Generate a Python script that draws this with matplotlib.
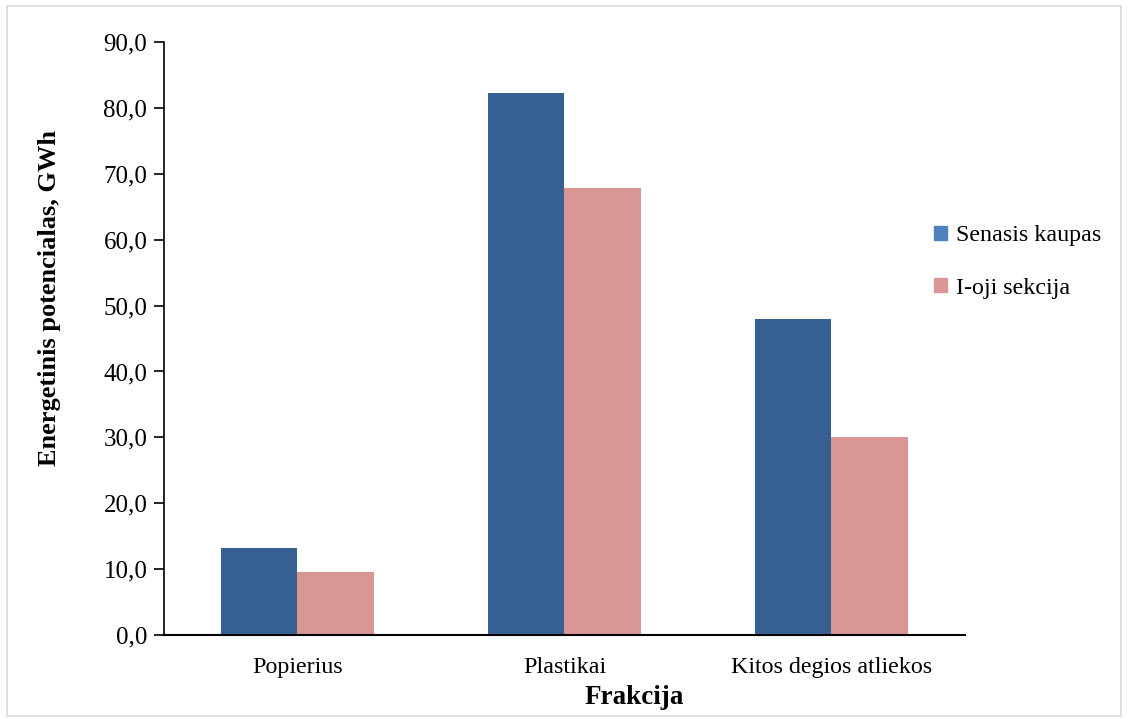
import matplotlib.pyplot as plt
import matplotlib.patches as mpatches
import numpy as np

categories = ["Popierius", "Plastikai", "Kitos degios atliekos"]
senasis = [13.2, 82.3, 47.9]
sekcija = [9.6, 67.8, 30.1]
yticks = [0, 10, 20, 30, 40, 50, 60, 70, 80, 90]

plt.rcParams['font.family'] = ['Liberation Serif', 'DejaVu Serif']

fig = plt.figure(figsize=(11.28, 7.2), dpi=100)
ax = fig.add_axes([0.1454, 0.118, 0.71, 0.8237])

x = np.arange(len(categories))
w = 0.288
ax.bar(x - w / 2, senasis, w, color="#366092")
ax.bar(x + w / 2, sekcija, w, color="#D99694")

ax.set_xlim(-0.5, 2.5)
ax.set_ylim(0, 90)
ax.set_yticks(yticks)
ax.set_yticklabels([f"{v:.1f}".replace(".", ",") for v in yticks], fontsize=18)
ax.set_xticks(x)
ax.set_xticklabels(categories, fontsize=17.3)
ax.tick_params(axis="x", length=0, pad=16)
ax.tick_params(axis="y", length=7, width=1.2, direction="out", pad=5)
for s in ["top", "right"]:
    ax.spines[s].set_visible(False)
ax.spines["left"].set_linewidth(1.2)
ax.spines["bottom"].set_linewidth(1.5)

# labels sit off-centre in the original (Excel placement)
ax.set_ylabel("Energetinis potencialas, GWh", fontsize=19, fontweight="bold")
ax.yaxis.set_label_coords(-0.129, 0.568)
ax.set_xlabel("Frakcija", fontsize=19.5, fontweight="bold")
ax.xaxis.set_label_coords(0.587, -0.085)

handles = [mpatches.Patch(color="#4F81BD", label="Senasis kaupas"),
           mpatches.Patch(color="#D99694", label="I-oji sekcija")]
fig.legend(handles=handles, loc="upper left", bbox_to_anchor=(0.809, 0.717),
           frameon=False, fontsize=17.3, handlelength=0.55, handleheight=0.55,
           handletextpad=0.35, labelspacing=1.3)

fig.patches.append(mpatches.Rectangle((0.006, 0.006), 0.988, 0.986, transform=fig.transFigure,
                                      fill=False, edgecolor="#D9D9D9", linewidth=1.2))

fig.savefig("out.png", dpi=100)
